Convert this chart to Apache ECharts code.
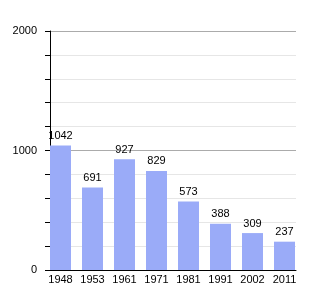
<!DOCTYPE html>
<html><head><meta charset="utf-8">
<script src="https://cdn.jsdelivr.net/npm/echarts@6/dist/echarts.min.js"></script>
<style>html,body{margin:0;padding:0;background:#fff}#c{width:325px;height:300px}</style>
</head><body><div id="c"></div>
<script>
const categories = ['1948','1953','1961','1971','1981','1991','2002','2011'];
const values = [1042, 691, 927, 829, 573, 388, 309, 237];
const yTicks = [0, 1000, 2000];

const chart = echarts.init(document.getElementById('c'), null, {renderer:'canvas'});
const font = 'Liberation Sans, Arial, sans-serif';
chart.setOption({
  animation: false,
  grid: [
    {left: 50, right: 29, top: 31, bottom: 30},
    {left: 44.5, width: 256, top: 31, bottom: 30}
  ],
  xAxis: [
    {gridIndex: 0, type: 'category', data: categories, axisLabel: {show: false}, axisTick: {show: false},
     axisLine: {show: true, lineStyle: {color: '#000', width: 1}}, splitLine: {show: false}},
    {gridIndex: 1, type: 'category', data: categories, axisLine: {show: false}, axisTick: {show: false},
     axisLabel: {color: '#000', fontFamily: font, fontSize: 11, margin: 4}}
  ],
  yAxis: [
    {gridIndex: 0, type: 'value', min: yTicks[0], max: yTicks[2], interval: 1000,
     axisLine: {show: true, lineStyle: {color: '#000', width: 1}},
     axisTick: {show: true, length: 5, lineStyle: {color: '#000'}},
     minorTick: {show: true, splitNumber: 5, length: 5, lineStyle: {color: '#000'}},
     minorSplitLine: {show: true, lineStyle: {color: '#e6e6e6', width: 1}},
     splitLine: {show: true, lineStyle: {color: '#ababab', width: 1}},
     axisLabel: {color: '#000', fontFamily: font, fontSize: 11, margin: 13, formatter: v => String(v)}},
    {gridIndex: 1, type: 'value', min: 0, max: 2000, show: false, splitLine: {show: false}}
  ],
  series: [{
    type: 'bar', xAxisIndex: 1, yAxisIndex: 1, data: values, barWidth: 21,
    itemStyle: {color: '#9aabf8'},
    label: {show: true, position: 'top', distance: 4, color: '#000', fontFamily: font, fontSize: 11}
  }]
});
</script></body></html>
